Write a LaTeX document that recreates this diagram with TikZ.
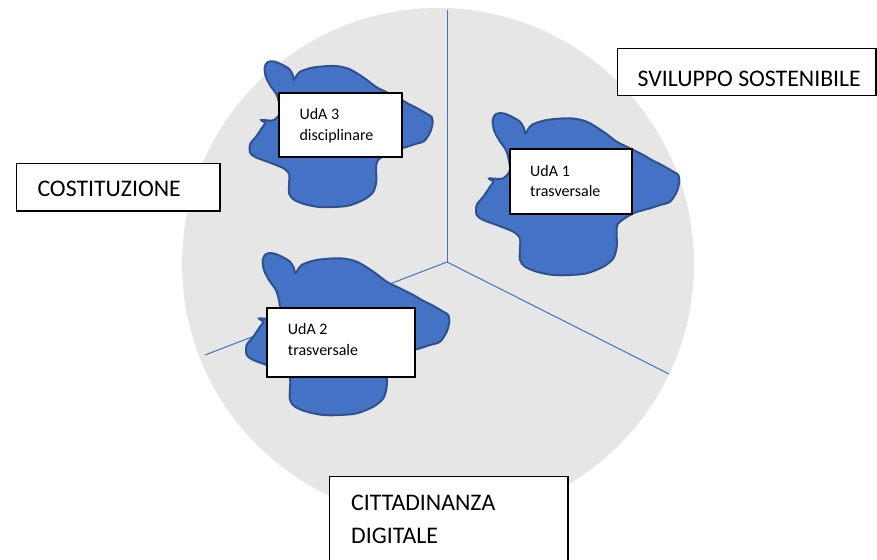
\documentclass[tikz,border=0pt]{standalone}
\usepackage{fontspec}
\setmainfont{Carlito}
\definecolor{circgray}{HTML}{E6E6E6}
\definecolor{blobfill}{HTML}{4472C4}
\definecolor{blobline}{HTML}{2F528F}
\definecolor{divline}{HTML}{4472C4}
\newcommand{\blobshape}{plot[smooth cycle,tension=0.5] coordinates{
(1,-1) (8.3,-1.7) (16.7,1.7) (25,6.7) (29,13.3) (30.5,18.3) (36.7,10) (51.7,5) (75,3.3) (91.7,6.7)
(108.3,16.7) (121.7,26.7) (135,33.3) (148.3,40) (156.7,45) (166.7,50) (178.3,56.7)
(183.3,60) (184.3,66.7) (181.7,76.7) (175,86.7) (165,90) (155,93.3) (138.3,98.3)
(123.3,108.3) (121.7,118.3) (121.7,131.7) (118.3,143.3) (108.3,151.7) (91.7,158.3)
(75,160) (58.3,160) (41.7,156.7) (30,151.7) (25,145) (25,131.7) (25,123.3)
(18.3,116.7) (1.7,110) (-11.7,105) (-18.3,100) (-18.3,90) (-11.7,81.7) (-5,71.7)
(-1.7,66.7) (-6,63.5) (5,64) (8.3,63.3) (15,55) (11.7,36.7) (4,25) (-1,15) (-2.3,5)}}
\tikzset{
  blob/.style={fill=blobfill, draw=blobline, line width=2pt},
  divider/.style={draw=divline, line width=1pt},
  smallbox/.style={draw=black, fill=white, line width=2pt, inner sep=0pt, outer sep=0pt, anchor=north west},
  bigbox/.style={draw=black, fill=white, line width=1.5pt, inner sep=0pt, outer sep=0pt, anchor=north west},
  smalltext/.style={inner sep=0pt, anchor=base west, align=left, font=\fontsize{16}{20.7}\selectfont},
  bigtext/.style={inner sep=0pt, anchor=base west, align=left, font=\fontsize{23.8}{33}\selectfont}
}
\begin{document}
\begin{tikzpicture}[x=1pt,y=-1pt]
\useasboundingbox (0,0) rectangle (877,559);
% disc
\fill[circgray] (438,264) circle (256pt);
% dividers
\coordinate (J) at (447,262);
\coordinate (top) at (447,10);
\coordinate (lr) at (669,374);
\coordinate (ll) at (205,355);
\draw[divider] (J) -- (top);
\draw[divider] (J) -- (lr);
\draw[divider] (J) -- (ll);
% blobs
\draw[blob, shift={(495,115)}] \blobshape;
\draw[blob, shift={(265,255)}] \blobshape;
\draw[blob, shift={(266.7,63)}, scale=0.9] \blobshape;
% small boxes
\node[smallbox, minimum width=123pt, minimum height=63.5pt] (b3) at (278.5,93.5) {};
\node[smallbox, minimum width=122.8pt, minimum height=64.5pt] (b1) at (509.5,149) {};
\node[smallbox, minimum width=148.3pt, minimum height=69pt] (b2) at (266.7,307.7) {};
\node[smalltext] (t3) at (299.3,140) {UdA 3\\disciplinare};
\node[smalltext] (t1) at (530,196.7) {UdA 1\\trasversale};
\node[smalltext] (t2) at (287.7,355) {UdA 2\\trasversale};
% big boxes
\node[bigbox, minimum width=203.3pt, minimum height=47.7pt] (cost) at (16.7,163.3) {};
\node[bigbox, minimum width=258.7pt, minimum height=47pt] (svil) at (617.3,48.5) {};
\node[bigbox, minimum width=238.7pt, minimum height=95pt] (citt) at (329.3,476.7) {};
\node[bigtext] (tc) at (37.3,196.7) {COSTITUZIONE};
\node[bigtext] (ts) at (637.3,86.7) {SVILUPPO SOSTENIBILE};
\node[bigtext] (td) at (351,543) {CITTADINANZA\\DIGITALE};
\end{tikzpicture}
\end{document}
